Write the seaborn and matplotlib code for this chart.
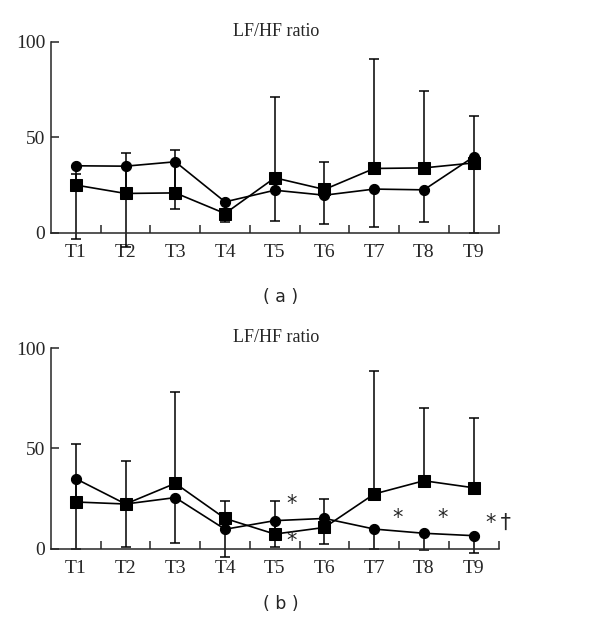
import matplotlib
matplotlib.use("Agg")
import numpy as np
import pandas as pd
import matplotlib.pyplot as plt
import seaborn as sns
from matplotlib.ticker import FixedLocator

sns.set_theme(style="ticks")
plt.rcParams["font.family"] = ["Liberation Serif", "DejaVu Serif"]

# === DATA ===
times = ["T1", "T2", "T3", "T4", "T5", "T6", "T7", "T8", "T9"]

# panel (a)
a_circle = [35.1, 34.9, 37.2, 16.2, 22.3, 19.7, 22.9, 22.5, 39.8]
a_circle_low = [-3.3, -7.3, 12.4, 5.8, 6.1, 4.5, 3.0, 5.4, 0.0]
a_square = [25.0, 20.6, 20.9, 10.1, 28.8, 22.7, 33.7, 34.0, 36.6]
a_square_high = [31.0, 41.9, 43.6, 12.0, 71.2, 37.2, 91.1, 74.3, 61.4]

# panel (b)
b_circle = [34.9, 22.3, 25.5, 9.7, 14.0, 15.1, 9.8, 7.7, 6.5]
b_circle_low = [0.0, 0.8, 3.0, -4.0, 0.8, 2.5, 0.0, -0.7, -2.0]
b_square = [23.3, 22.3, 32.6, 15.1, 7.3, 10.6, 27.3, 33.9, 30.4]
b_square_high = [52.1, 43.9, 78.2, 24.0, 24.0, 24.6, 88.7, 70.4, 65.1]

# significance marks in (b): (time index, value, text)
b_marks = [(5.24, 22.3, "*"), (5.24, 4.0, "*"), (7.36, 15.5, "*"),
           (8.28, 15.5, "*"), (9.25, 13.0, "*\u2009\u2020")]


def draw_panel(ax, circle, circle_low, square, square_high):
    x = np.arange(1, len(times) + 1)
    df = pd.DataFrame({
        "x": np.concatenate([x, x]),
        "value": circle + square,
        "group": ["circle"] * len(x) + ["square"] * len(x),
    })
    # error bars: squares upward, circles downward
    sq = np.array(square)
    ci = np.array(circle)
    ax.errorbar(x, sq, yerr=[np.zeros_like(sq), np.array(square_high) - sq],
                fmt="none", ecolor="black", elinewidth=1.1, capsize=3.5,
                capthick=1.1, zorder=1)
    ax.errorbar(x, ci, yerr=[ci - np.array(circle_low), np.zeros_like(ci)],
                fmt="none", ecolor="black", elinewidth=1.1, capsize=3.5,
                capthick=1.1, zorder=1)
    sns.lineplot(data=df, x="x", y="value", style="group",
                 markers={"circle": "o", "square": "s"},
                 dashes={"circle": "", "square": ""},
                 color="black", linewidth=1.2, markersize=7.3,
                 markeredgecolor="black", legend=False, ax=ax, zorder=3)
    # squares a little bigger than circles
    for ln in ax.lines:
        if ln.get_marker() == "s":
            ln.set_markersize(8.3)

    ax.set_xlim(0.5, 9.55)
    ax.set_ylim(-10, 101)
    ax.spines["top"].set_visible(False)
    ax.spines["right"].set_visible(False)
    ax.spines["bottom"].set_position(("data", 0))
    ax.spines["left"].set_bounds(0, 100)
    ax.spines["bottom"].set_bounds(0.5, 9.5)
    for s in ["left", "bottom"]:
        ax.spines[s].set_linewidth(1.1)

    ax.set_xticks(x)
    ax.set_xticklabels(times, fontsize=14)
    ax.xaxis.set_minor_locator(FixedLocator(np.arange(1.5, 10, 1.0)))
    ax.tick_params(axis="x", which="major", length=0, pad=8)
    ax.tick_params(axis="x", which="minor", direction="in", length=6, width=1.1)
    ax.set_yticks([0, 50, 100])
    ax.set_yticklabels(["0", "50", "100"], fontsize=14)
    ax.tick_params(axis="y", direction="in", length=6, width=1.1, pad=4)
    ax.set_xlabel("")
    ax.set_ylabel("")
    ax.set_title("LF/HF ratio", fontsize=13, pad=2)


fig = plt.figure(figsize=(6, 6.25), dpi=100)
ax1 = fig.add_axes([0.085, 0.597, 0.75, 0.339])
ax2 = fig.add_axes([0.085, 0.090, 0.75, 0.356])

draw_panel(ax1, a_circle, a_circle_low, a_square, a_square_high)
draw_panel(ax2, b_circle, b_circle_low, b_square, b_square_high)

for xm, ym, txt in b_marks:
    ax2.text(xm, ym, txt, fontsize=15, ha="left", va="center",
             family=["DejaVu Sans"])

fig.text(0.468, 0.524, "( a )", fontsize=12.5, ha="center", va="center",
         family=["DejaVu Sans"])
fig.text(0.468, 0.033, "( b )", fontsize=12.5, ha="center", va="center",
         family=["DejaVu Sans"])

plt.savefig("out.png", dpi=100)
